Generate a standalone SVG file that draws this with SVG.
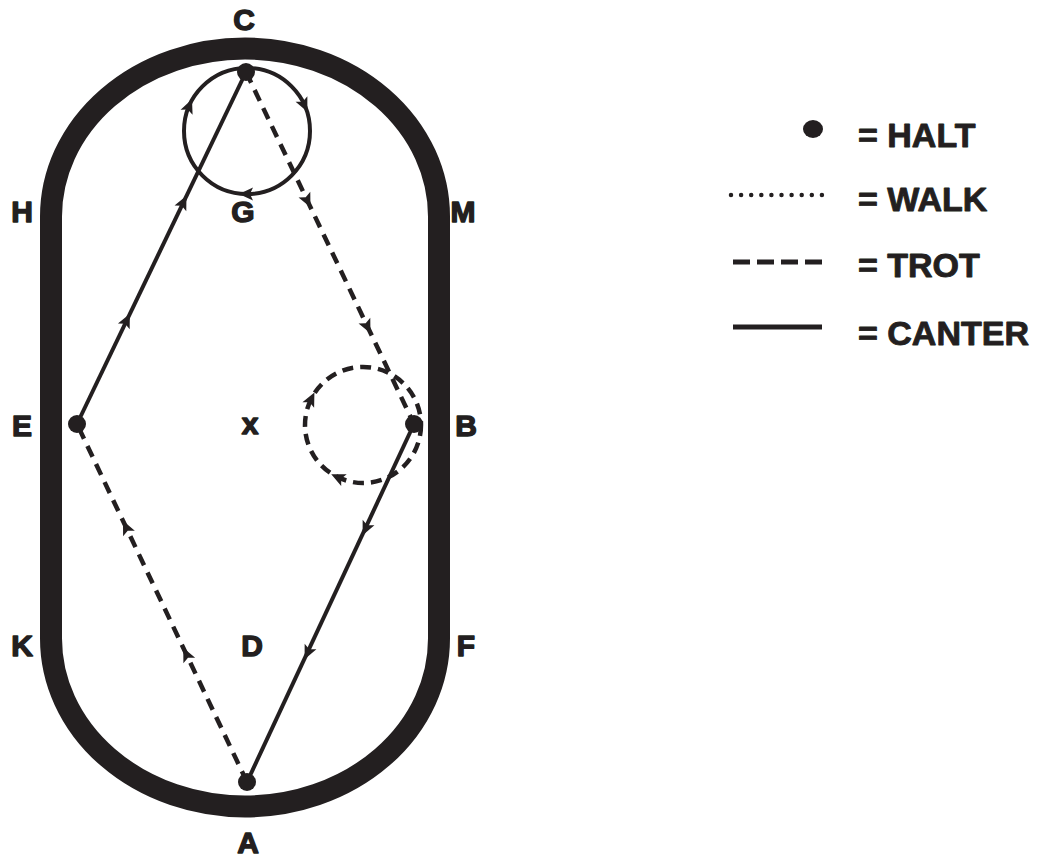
<svg xmlns="http://www.w3.org/2000/svg" xmlns:xlink="http://www.w3.org/1999/xlink" width="1051" height="857" viewBox="0 0 1051 857">
  <style>
    .arena { fill: none; stroke: #231f20; stroke-width: 22; }
    .lbl { font-family: "Liberation Sans", Arial, sans-serif; font-weight: bold; font-size: 30px; fill: #231f20; stroke: #231f20; stroke-width: 1.4; stroke-linejoin: round; text-anchor: middle; }
    .leg { font-family: "Liberation Sans", Arial, sans-serif; font-weight: bold; font-size: 34px; fill: #231f20; stroke: #231f20; stroke-width: 0.9; stroke-linejoin: round; }
    .canter { fill: none; stroke: #231f20; stroke-width: 4; }
    .trot { fill: none; stroke: #231f20; stroke-width: 4.5; stroke-dasharray: 12 8; }
    .trotc { fill: none; stroke: #231f20; stroke-width: 4.5; stroke-dasharray: 11 7; }
    .halt { fill: #231f20; }
    .ah { fill: #231f20; }
  </style>
  <defs>
    <path id="head" d="M 8 0 L -6 -6.5 L -3 0 L -6 6.5 Z"/>
  </defs>
  <rect width="1051" height="857" fill="#ffffff"/>

  <!-- Arena outline -->
  <g id="arena">
    <path class="arena" d="M 51 216.5 A 194 168 0 0 1 439 216.5 L 439 638.5 A 194 168 0 0 1 51 638.5 Z"/>
  </g>

  <!-- Arena letters -->
  <g id="letters">
    <text id="lbl-C" class="lbl" x="244" y="30">C</text>
    <text id="lbl-A" class="lbl" x="248" y="853">A</text>
    <text id="lbl-H" class="lbl" x="22" y="222">H</text>
    <text id="lbl-M" class="lbl" x="463" y="222">M</text>
    <text id="lbl-E" class="lbl" x="22" y="436">E</text>
    <text id="lbl-B" class="lbl" x="466" y="436">B</text>
    <text id="lbl-K" class="lbl" x="22" y="656">K</text>
    <text id="lbl-F" class="lbl" x="466" y="656">F</text>
    <text id="lbl-X" class="lbl" x="250" y="434">x</text>
    <text id="lbl-D" class="lbl" x="252" y="656">D</text>
    <text id="lbl-G" class="lbl" x="243" y="222">G</text>
  </g>

  <!-- Test pattern connectors -->
  <g id="connectors">
    <!-- 20 m circle at C, canter -->
    <circle class="canter" cx="247" cy="131" r="63"/>
    <!-- E to C, canter -->
    <line class="canter" x1="77" y1="424" x2="246" y2="72"/>
    <!-- C to B, trot -->
    <line class="trot" x1="246" y1="72" x2="414" y2="424"/>
    <!-- circle at B, trot -->
    <circle class="trotc" cx="363" cy="425" r="58"/>
    <!-- B to A, canter -->
    <line class="canter" x1="414" y1="424" x2="247" y2="782"/>
    <!-- A to E, trot -->
    <line class="trot" x1="247" y1="782" x2="77" y2="424"/>

    <!-- direction arrows -->
    <use class="ah" xlink:href="#head" transform="translate(126.4,321) rotate(-64.4)"/>
    <use class="ah" xlink:href="#head" transform="translate(183,203) rotate(-64.4)"/>
    <use class="ah" xlink:href="#head" transform="translate(307,200) rotate(64.5)"/>
    <use class="ah" xlink:href="#head" transform="translate(367,326) rotate(64.5)"/>
    <use class="ah" xlink:href="#head" transform="translate(366,528) rotate(115)"/>
    <use class="ah" xlink:href="#head" transform="translate(308,652) rotate(115)"/>
    <use class="ah" xlink:href="#head" transform="translate(186.7,655) rotate(-115.4)"/>
    <use class="ah" xlink:href="#head" transform="translate(126.4,528) rotate(-115.4)"/>
    <use class="ah" xlink:href="#head" transform="translate(188.9,106.7) rotate(-67.3)"/>
    <use class="ah" xlink:href="#head" transform="translate(304,104.4) rotate(65)"/>
    <use class="ah" xlink:href="#head" transform="translate(247,194) rotate(180)"/>
    <use class="ah" xlink:href="#head" transform="translate(310.9,399.6) rotate(-64)"/>
    <use class="ah" xlink:href="#head" transform="translate(338.5,477.6) rotate(205)"/>
  </g>

  <!-- Halt points -->
  <g id="halt-C"><circle class="halt" cx="246" cy="72" r="9"/></g>
  <g id="halt-E"><circle class="halt" cx="77" cy="424" r="9"/></g>
  <g id="halt-B"><circle class="halt" cx="414" cy="424" r="9"/></g>
  <g id="halt-A"><circle class="halt" cx="247" cy="782" r="9"/></g>

  <!-- Legend -->
  <g id="legend">
    <ellipse class="halt" cx="813" cy="129" rx="10" ry="9"/>
    <text class="leg" x="858" y="147">= HALT</text>
    <line x1="731" y1="195" x2="822" y2="195" stroke="#231f20" stroke-width="4.5" stroke-linecap="round" stroke-dasharray="0 10.1"/>
    <text class="leg" x="858" y="211">= WALK</text>
    <line x1="733" y1="262" x2="822" y2="262" stroke="#231f20" stroke-width="5" stroke-dasharray="17 7"/>
    <text class="leg" x="858" y="277">= TROT</text>
    <line x1="733" y1="327" x2="822" y2="327" stroke="#231f20" stroke-width="5"/>
    <text class="leg" x="858" y="345">= CANTER</text>
  </g>
</svg>
